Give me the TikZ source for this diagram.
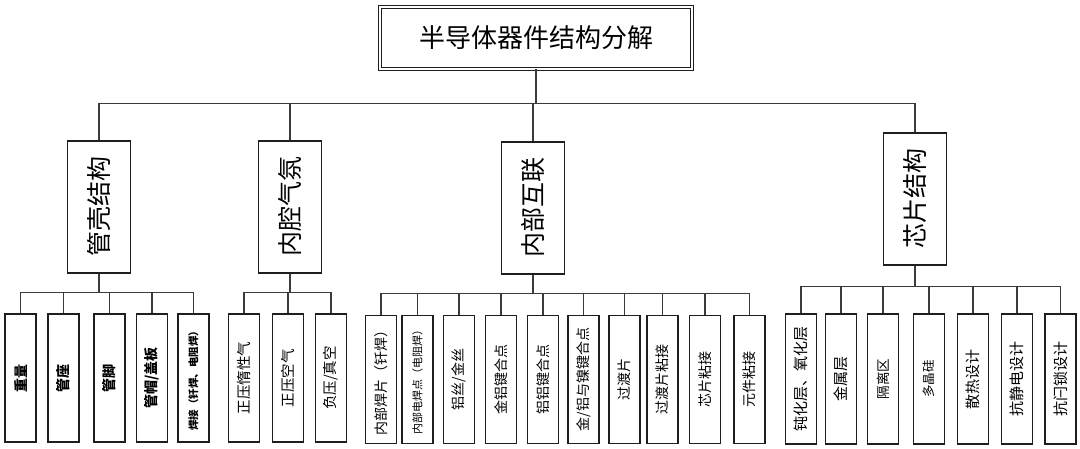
\documentclass[tikz,border=0pt]{standalone}
\usepackage{fontspec}
\setmainfont{Noto Sans CJK SC}
\usepackage{xcolor}
\definecolor{chart-black}{HTML}{1E1E1E}
\definecolor{chart-grey}{HTML}{3A3A3A}
\usepackage{graphicx}
\usepackage{tikz}

\tikzset{
    title/.style={draw=chart-black, double, double distance=1.6pt, line width=0.9pt,
                  minimum width=312pt, minimum height=62pt, inner sep=0pt,
                  font=\fontsize{26}{26}\selectfont},
    branch/.style={draw=chart-black, line width=1.6pt, minimum width=63pt,
                   minimum height=132pt, inner sep=0pt, font=\fontsize{25}{25}\selectfont},
    leaf/.style={draw=chart-black, line width=1.6pt, minimum width=31pt,
                 minimum height=128pt, inner sep=0pt, font=\fontsize{14}{14}\selectfont},
    link/.style={draw=chart-grey, line width=1.3pt},
}

\begin{document}
\begin{tikzpicture}[x=1pt, y=-1pt]

    % Background
    \fill[white] (0, 0) rectangle (1080, 449);
    \useasboundingbox (0, 0) rectangle (1080, 449);

    % Title
    \node[title] (root) at (536, 38) {半导体器件结构分解};

    % Main branches
    \node[branch] (shell) at (99, 207) {\rotatebox{90}{管壳结构}};
    \node[branch] (cavity) at (290, 207) {\rotatebox{90}{内腔气氛}};
    \node[branch] (inter) at (533, 208) {\rotatebox{90}{内部互联}};
    \node[branch] (chip) at (915, 199) {\rotatebox{90}{芯片结构}};

    % Leaves: shell
    \node[leaf, font=\fontsize{14}{14}\selectfont\bfseries] (weight) at (20.5, 378) {\rotatebox{90}{重量}};
    \node[leaf, font=\fontsize{14}{14}\selectfont\bfseries] (header) at (63.5, 378) {\rotatebox{90}{管座}};
    \node[leaf, font=\fontsize{14}{14}\selectfont\bfseries] (pins) at (109.5, 378) {\rotatebox{90}{管脚}};
    \node[leaf, font=\fontsize{14}{14}\selectfont\bfseries] (cap) at (152, 378) {\rotatebox{90}{管帽/盖板}};
    \node[leaf, font=\fontsize{10.5}{10.5}\selectfont\bfseries] (seal) at (193.5, 378) {\rotatebox{90}{焊接（钎焊、电阻焊）}};

    % Leaves: cavity
    \node[leaf, font=\fontsize{14.5}{14.5}\selectfont] (inert) at (244, 378) {\rotatebox{90}{正压惰性气}};
    \node[leaf, font=\fontsize{14.5}{14.5}\selectfont] (air) at (288, 378) {\rotatebox{90}{正压空气}};
    \node[leaf, font=\fontsize{14.5}{14.5}\selectfont] (vacuum) at (331, 378) {\rotatebox{90}{负压/真空}};

    % Leaves: interconnect
    \node[leaf] (tab) at (381, 379.5) {\rotatebox{90}{内部焊片（钎焊）}};
    \node[leaf, font=\fontsize{11}{11}\selectfont] (spot) at (417.5, 379.5) {\rotatebox{90}{内部电焊点（电阻焊）}};
    \node[leaf] (wire) at (459, 379.5) {\rotatebox{90}{铝丝/金丝}};
    \node[leaf] (aual) at (501, 379.5) {\rotatebox{90}{金铝键合点}};
    \node[leaf] (alal) at (543, 379.5) {\rotatebox{90}{铝铝键合点}};
    \node[leaf] (auni) at (583.5, 379.5) {\rotatebox{90}{金/铝与镍键合点}};
    \node[leaf] (spacer) at (624.5, 379.5) {\rotatebox{90}{过渡片}};
    \node[leaf] (spacerbond) at (662.5, 379.5) {\rotatebox{90}{过渡片粘接}};
    \node[leaf] (diebond) at (705, 379.5) {\rotatebox{90}{芯片粘接}};
    \node[leaf] (partbond) at (749.5, 379.5) {\rotatebox{90}{元件粘接}};

    % Leaves: chip
    \node[leaf, minimum height=130pt, font=\fontsize{15}{15}\selectfont] (passiv) at (801, 379) {\rotatebox{90}{钝化层、氧化层}};
    \node[leaf, minimum height=130pt, font=\fontsize{15}{15}\selectfont] (metal) at (841, 379) {\rotatebox{90}{金属层}};
    \node[leaf, minimum height=130pt, font=\fontsize{13.5}{13.5}\selectfont] (isolate) at (883, 379) {\rotatebox{90}{隔离区}};
    \node[leaf, minimum height=130pt, font=\fontsize{12.5}{12.5}\selectfont] (poly) at (929, 379) {\rotatebox{90}{多晶硅}};
    \node[leaf, minimum height=130pt, font=\fontsize{15}{15}\selectfont] (thermal) at (973, 379) {\rotatebox{90}{散热设计}};
    \node[leaf, minimum height=130pt, font=\fontsize{15}{15}\selectfont] (esd) at (1017, 379) {\rotatebox{90}{抗静电设计}};
    \node[leaf, minimum height=130pt, font=\fontsize{15}{15}\selectfont] (latchup) at (1060.5, 379) {\rotatebox{90}{抗闩锁设计}};

    % Connectors
    \draw[link] (root.south) -- ++(0, 34) coordinate (root-bus)
                (root-bus) -| (shell.north)
                (root-bus) -| (cavity.north)
                (root-bus) -| (inter.north)
                (root-bus) -| (chip.north);
    \draw[link] (shell.south) -- ++(0, 19) coordinate (shell-bus)
                (shell-bus) -| (weight.north)
                (shell-bus) -| (header.north)
                (shell-bus) -| (pins.north)
                (shell-bus) -| (cap.north)
                (shell-bus) -| (seal.north);
    \draw[link] (cavity.south) -- ++(0, 19) coordinate (cavity-bus)
                (cavity-bus) -| (inert.north)
                (cavity-bus) -| (air.north)
                (cavity-bus) -| (vacuum.north);
    \draw[link] (inter.south) -- ++(0, 19) coordinate (inter-bus)
                (inter-bus) -| (tab.north)
                (inter-bus) -| (spot.north)
                (inter-bus) -| (wire.north)
                (inter-bus) -| (aual.north)
                (inter-bus) -| (alal.north)
                (inter-bus) -| (auni.north)
                (inter-bus) -| (spacer.north)
                (inter-bus) -| (spacerbond.north)
                (inter-bus) -| (diebond.north)
                (inter-bus) -| (partbond.north);
    \draw[link] (chip.south) -- ++(0, 21) coordinate (chip-bus)
                (chip-bus) -| (passiv.north)
                (chip-bus) -| (metal.north)
                (chip-bus) -| (isolate.north)
                (chip-bus) -| (poly.north)
                (chip-bus) -| (thermal.north)
                (chip-bus) -| (esd.north)
                (chip-bus) -| (latchup.north);

\end{tikzpicture}
\end{document}
